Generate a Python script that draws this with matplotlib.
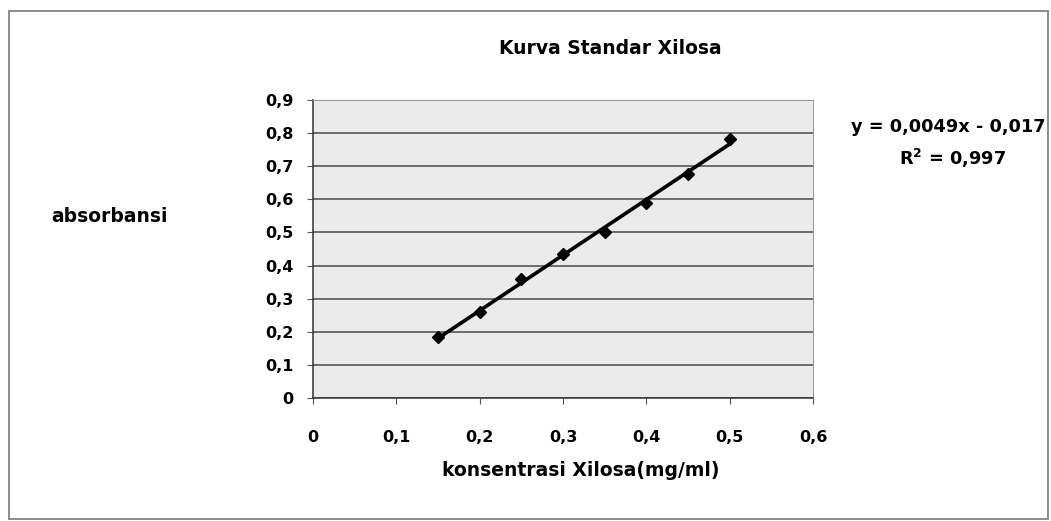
import numpy as np
import matplotlib.pyplot as plt
from matplotlib.patches import Rectangle

# data
konsentrasi = [0.15, 0.20, 0.25, 0.30, 0.35, 0.40, 0.45, 0.50]
absorbansi = [0.183, 0.260, 0.360, 0.435, 0.500, 0.590, 0.677, 0.783]
x_ticks = [0, 0.1, 0.2, 0.3, 0.4, 0.5, 0.6]
y_ticks = [0, 0.1, 0.2, 0.3, 0.4, 0.5, 0.6, 0.7, 0.8, 0.9]

plt.rcParams['font.family'] = ['DejaVu Sans']
plt.rcParams['font.weight'] = 'bold'

fig = plt.figure(figsize=(10.51, 5.21), dpi=100)
ax = fig.add_axes([313 / 1051, 1 - 398 / 521, 500 / 1051, 298 / 521])

# outer chart frame
fig.patches.append(Rectangle((9 / 1051, 2 / 521), 1039 / 1051, 508 / 521,
                             transform=fig.transFigure, fill=False,
                             edgecolor='#8c8c8c', lw=1.4))

ax.set_facecolor('#ebebeb')
ax.set_xlim(0, 0.6)
ax.set_ylim(0, 0.9)
ax.set_xticks(x_ticks)
ax.set_yticks(y_ticks)
ax.set_xticklabels([('%g' % v).replace('.', ',') for v in x_ticks])
ax.set_yticklabels([('%g' % v).replace('.', ',') for v in y_ticks])
ax.tick_params(labelsize=11.5, length=4, width=0.8, color='#555555')
ax.tick_params(axis='x', pad=19)
ax.tick_params(axis='y', pad=10)
for lbl in ax.get_xticklabels() + ax.get_yticklabels():
    lbl.set_fontweight('bold')
ax.grid(axis='y', color='#4a4a4a', lw=1.1)
ax.set_axisbelow(True)
for s in ['top', 'right']:
    ax.spines[s].set_color('#9a9a9a')
for s in ['left', 'bottom']:
    ax.spines[s].set_color('#333333')
    ax.spines[s].set_linewidth(1.1)

# linear trendline
k, c = np.polyfit(konsentrasi, absorbansi, 1)
xs = np.array([min(konsentrasi), max(konsentrasi)])
ax.plot(xs, k * xs + c, color='black', lw=2.6, zorder=3)
ax.plot(konsentrasi, absorbansi, linestyle='none', marker='D', ms=6,
        color='black', zorder=4)

fig.text(610 / 1051, 1 - 49 / 521, 'Kurva Standar Xilosa', ha='center',
         va='center', fontsize=13.5, fontweight='bold')
fig.text(581 / 1051, 1 - 470 / 521, 'konsentrasi Xilosa(mg/ml)', ha='center',
         va='center', fontsize=13.5, fontweight='bold')
fig.text(109 / 1051, 1 - 216 / 521, 'absorbansi', ha='center', va='center',
         fontsize=13.5, fontweight='bold')
fig.text(948 / 1051, 1 - 127 / 521, 'y = 0,0049x - 0,017', ha='center',
         va='center', fontsize=12.8, fontweight='bold')
fig.text(952 / 1051, 1 - 158 / 521, 'R$^{\\mathbf{2}}$ = 0,997', ha='center',
         va='center', fontsize=12.8, fontweight='bold')

fig.savefig('out.png', dpi=100)
